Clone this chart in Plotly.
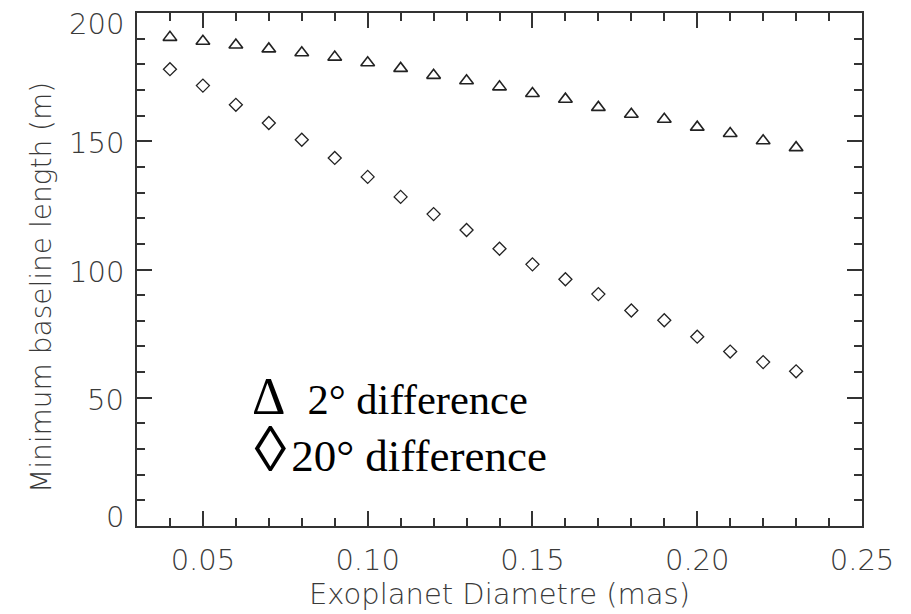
import plotly.graph_objects as go

# Exoplanet angular diameter (mas)
diameter = [0.04, 0.05, 0.06, 0.07, 0.08, 0.09, 0.10, 0.11, 0.12, 0.13,
            0.14, 0.15, 0.16, 0.17, 0.18, 0.19, 0.20, 0.21, 0.22, 0.23]

# Minimum baseline length (m) for each phase difference
baseline_2deg = [190.5, 189.0, 187.5, 186.0, 184.5, 182.8, 180.6, 178.4, 175.7, 173.6,
                 171.2, 168.6, 166.4, 163.2, 160.5, 158.6, 155.5, 153.0, 150.2, 147.5]
baseline_20deg = [178.1, 171.7, 164.2, 157.1, 150.6, 143.5, 136.1, 128.3, 121.6, 115.4,
                  108.1, 102.0, 96.2, 90.4, 84.0, 80.2, 73.8, 68.0, 63.9, 60.3]

legend_labels = ["2° difference", "20° difference"]
x_ticks = [0.05, 0.10, 0.15, 0.20, 0.25]
y_ticks = [0, 50, 100, 150, 200]
x_title = "Exoplanet Diametre (mas)"
y_title = "Minimum baseline length (m)"

W, H = 911, 614
L, R, T, B = 137, 49, 11, 88
pw, ph = W - L - R, H - T - B


def px(xp):
    return (xp - L) / pw


def py(yp):
    return 1 - (yp - T) / ph


axis_font = dict(family="DejaVu Sans", size=29, color="#3a3a3a", weight=200)
title_font = dict(family="DejaVu Sans", size=28, color="#3a3a3a", weight=200)
ink = "#222222"

fig = go.Figure()
fig.add_trace(go.Scatter(
    x=diameter, y=baseline_2deg, mode="markers", name=legend_labels[0],
    marker=dict(symbol="triangle-up-open", size=12, color=ink,
                line=dict(width=1.6, color=ink)),
))
fig.add_trace(go.Scatter(
    x=diameter, y=baseline_20deg, mode="markers", name=legend_labels[1],
    marker=dict(symbol="diamond-open", size=10, color=ink,
                line=dict(width=1.3, color=ink)),
))

axis_common = dict(
    showgrid=False, zeroline=False, showline=True, linecolor="#333333", linewidth=2,
    mirror="ticks", ticks="inside", ticklen=15, tickwidth=2, tickcolor="#333333",
    tickfont=axis_font,
)

fig.update_xaxes(
    range=[0.03, 0.25], tickvals=x_ticks, ticktext=[f"{v:.2f}" for v in x_ticks],
    ticklabelstandoff=7,
    minor=dict(dtick=0.01, tick0=0.0, ticks="inside", ticklen=8, tickwidth=2,
               tickcolor="#333333"),
    title=dict(text=x_title, font=axis_font, standoff=5),
    **axis_common,
)
fig.update_yaxes(
    range=[0, 200], tickvals=y_ticks, showticklabels=False,
    minor=dict(dtick=10, tick0=0, ticks="inside", ticklen=8, tickwidth=2,
               tickcolor="#333333"),
    **axis_common,
)

# y tick labels, with the end labels pulled inside the frame
for v in y_ticks:
    shift = 9 if v == y_ticks[0] else (-11 if v == y_ticks[-1] else -2)
    fig.add_annotation(
        text=str(v), xref="paper", yref="y", x=px(126), y=v, yshift=shift,
        xanchor="right", yanchor="middle", showarrow=False, font=axis_font,
    )

# rotated y-axis title
fig.add_annotation(
    text=y_title, xref="paper", yref="paper", x=px(42), y=py(287),
    xanchor="center", yanchor="middle", textangle=-90, showarrow=False,
    font=title_font,
)

# Legend block: symbol glyphs followed by the labels, two lines in one text box
serif = "Liberation Serif"
nb = "\u00a0"
legend_text = (
    f"<span style='font-size:52px'>Δ</span>{nb}{nb}"
    f"<span style='font-size:42.5px'>{legend_labels[0]}</span><br>"
    f"<span style='font-size:10px'>{nb}</span>"
    f"<span style='font-size:64px'>◊</span><span style='font-size:20px'>{nb}</span>"
    f"<span style='font-size:45px'>{legend_labels[1]}</span>"
)
fig.add_annotation(
    text=legend_text, xref="paper", yref="paper", x=px(250), y=py(426),
    xanchor="left", yanchor="middle", align="left", showarrow=False,
    font=dict(family=serif, size=44, color="black"),
)

fig.update_layout(
    width=W, height=H, margin=dict(l=L, r=R, t=T, b=B),
    paper_bgcolor="white", plot_bgcolor="white", showlegend=False,
)

fig.write_html("out.html")
